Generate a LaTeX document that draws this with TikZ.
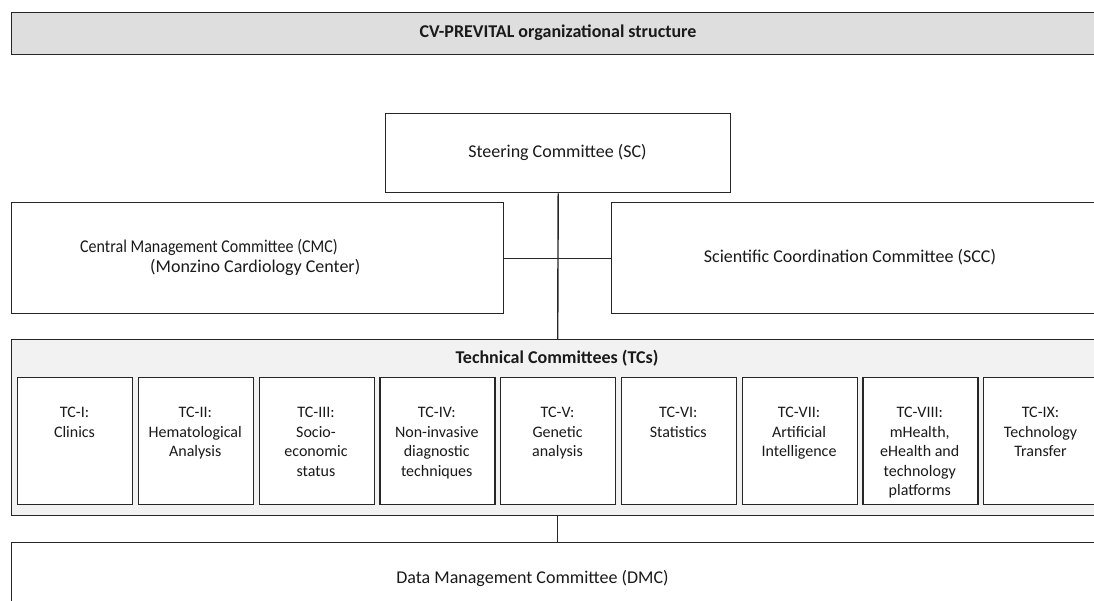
\documentclass[tikz,border=0pt]{standalone}
\usepackage{fontspec}
\setmainfont{Carlito}
\definecolor{bannerfill}{HTML}{DEDEDE}
\definecolor{tcfill}{HTML}{F2F2F2}
\definecolor{edge}{HTML}{262626}
\definecolor{ink}{HTML}{1A1A1A}
\begin{document}
\begin{tikzpicture}[x=1pt,y=-1pt,
  box/.style={draw=edge, line width=1.4pt, inner sep=0pt, anchor=north west},
  conn/.style={draw=edge, line width=1.4pt},
  txt/.style={font=\fontsize{18}{19.5}\selectfont, inner sep=0pt, align=center, text=ink},
  tctxt/.style={txt, font=\fontsize{16}{19.5}\selectfont},
  tcbox/.style={box, fill=white, minimum width=115, minimum height=127}]
\useasboundingbox (0,0) rectangle (1094,600);
\clip (0,0) rectangle (1094,600);
% banner
\node[box, fill=bannerfill, minimum width=1094, minimum height=42] (banner) at (11,12) {};
\node[txt, font=\fontsize{18}{19.5}\selectfont\bfseries] (bannertxt) at (558,33) {CV-PREVITAL organizational structure};
% steering committee
\node[box, fill=white, minimum width=345, minimum height=79] (sc) at (385,113) {};
\node[txt] (sctxt) at (557.5,152.5) {Steering Committee (SC)};
% CMC and SCC
\node[box, fill=white, minimum width=492, minimum height=111] (cmc) at (11,202) {};
\node[txt, align=left, anchor=west] (cmctxt) at (80,257.5) {\scalebox{0.89}[1]{Central Management Committee (CMC)}\\\hspace*{70pt}(Monzino Cardiology Center)};
\node[box, fill=white, minimum width=500, minimum height=111] (scc) at (611,202) {};
\node[txt] (scctxt) at (850,257.5) {Scientific Coordination Committee (SCC)};
% technical committees
\node[box, fill=tcfill, minimum width=1092, minimum height=176] (tcs) at (11,339) {};
\node[txt, font=\fontsize{18}{19.5}\selectfont\bfseries] (tcstxt) at (557,358) {Technical Committees (TCs)};
\foreach \i/\t in {0/{TC-I:\\Clinics},
                   1/{TC-II:\\Hematological\\Analysis},
                   2/{TC-III:\\Socio-\\economic\\status},
                   3/{TC-IV:\\Non-invasive\\diagnostic\\techniques},
                   4/{TC-V:\\Genetic\\analysis},
                   5/{TC-VI:\\Statistics},
                   6/{TC-VII:\\Artificial\\Intelligence},
                   7/{TC-VIII:\\mHealth,\\eHealth and\\technology\\platforms},
                   8/{TC-IX:\\Technology\\Transfer}}{
  \node[tcbox] (tc\i) at ({17+\i*120.75},377) {};
  \node[tctxt, anchor=north] (tc\i txt) at ({74.5+\i*120.75},407) {\t};
}
% DMC
\node[box, fill=white, minimum width=1100, minimum height=72] (dmc) at (11,542) {};
\node[txt] (dmctxt) at (532.5,578) {Data Management Committee (DMC)};
% connectors
\draw[conn] (sc.south) -- (tcs.north);
\draw[conn] (cmc.east) -- (scc.west);
\draw[conn] (tcs.south) -- (tcs.south |- dmc.north);
\end{tikzpicture}
\end{document}
